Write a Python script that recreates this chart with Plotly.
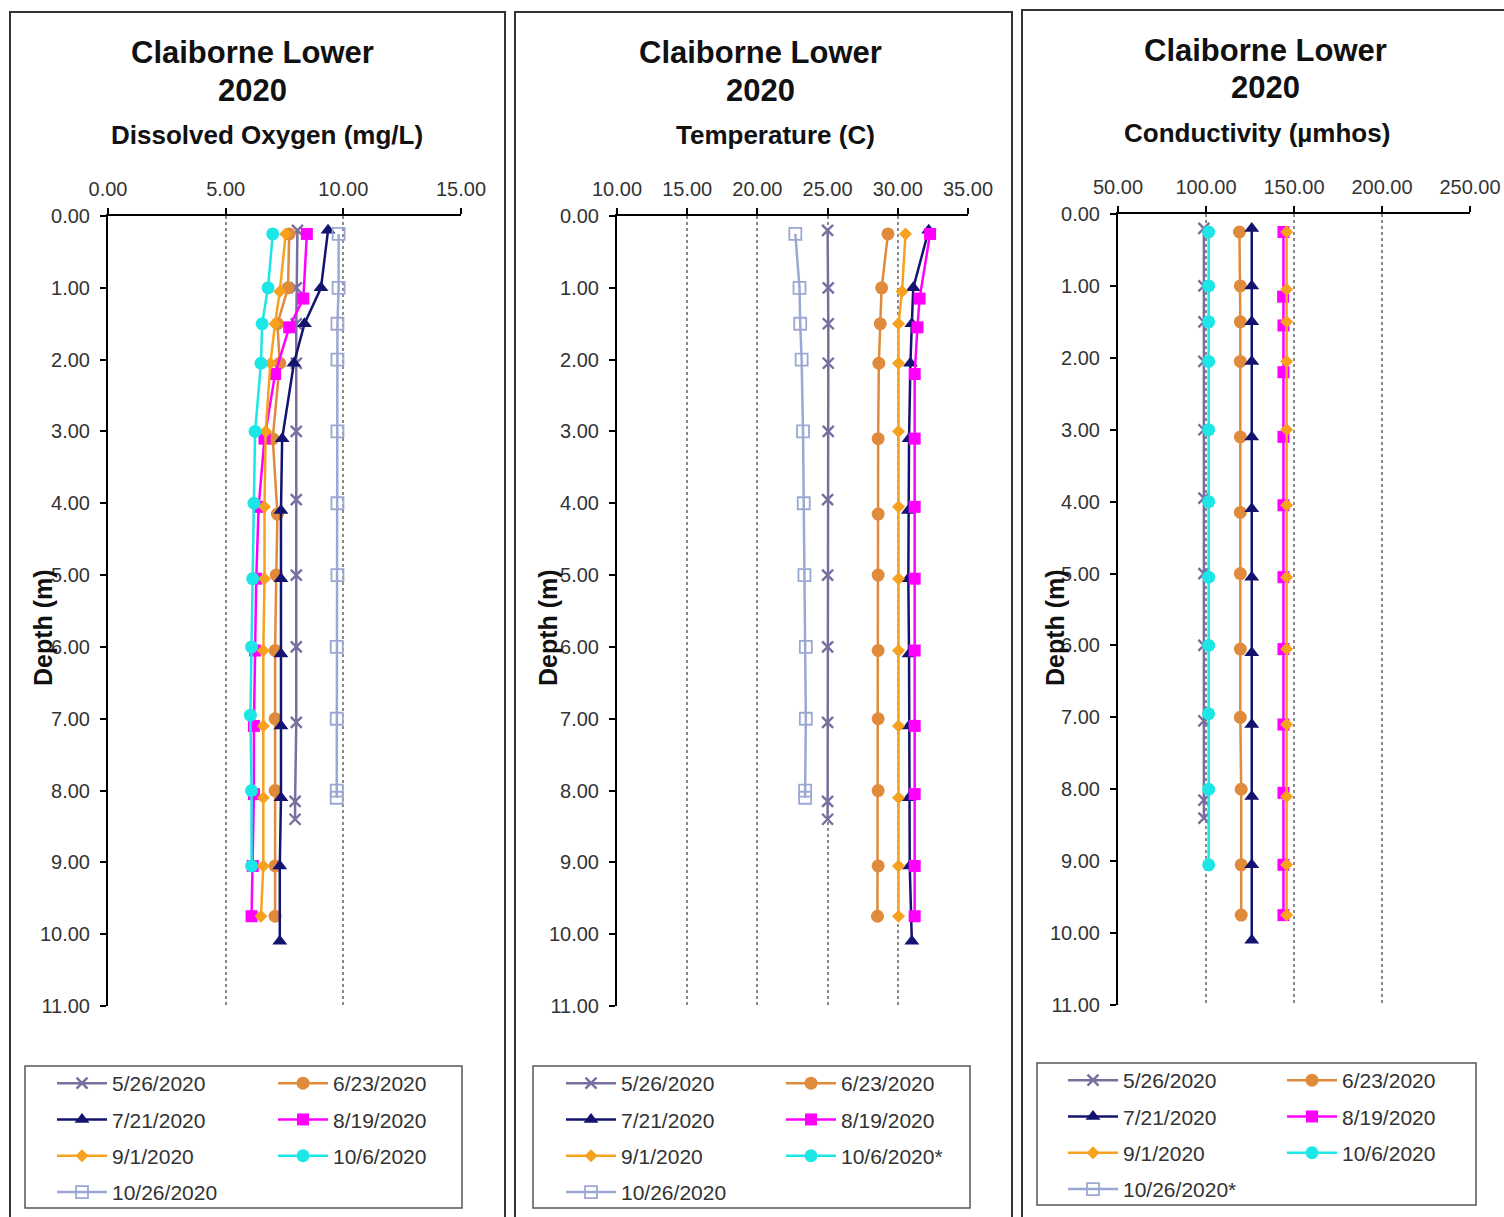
import plotly.graph_objects as go

W, H = 1504, 1217
FONT = "Liberation Sans, Arial, sans-serif"

# ---------------- data ----------------
series_names = ["5/26/2020", "6/23/2020", "7/21/2020", "8/19/2020", "9/1/2020", "10/6/2020", "10/26/2020"]

d_0526 = [0.2, 1.0, 1.5, 2.05, 3.0, 3.95, 5.0, 6.0, 7.05, 8.15, 8.4]
d_0623 = [0.25, 1.0, 1.5, 2.05, 3.1, 4.15, 5.0, 6.05, 7.0, 8.0, 9.05, 9.75]
d_0721 = [0.2, 1.0, 1.5, 2.05, 3.1, 4.1, 5.05, 6.1, 7.1, 8.1, 9.05, 10.1]
d_0819 = [0.25, 1.15, 1.55, 2.2, 3.1, 4.05, 5.05, 6.05, 7.1, 8.05, 9.05, 9.75]
d_0901 = [0.25, 1.05, 1.5, 2.05, 3.0, 4.05, 5.05, 6.05, 7.1, 8.1, 9.05, 9.75]
d_1006 = [0.25, 1.0, 1.5, 2.05, 3.0, 4.0, 5.05, 6.0, 6.95, 8.0, 9.05]
d_1026 = [0.25, 1.0, 1.5, 2.0, 3.0, 4.0, 5.0, 6.0, 7.0, 8.0, 8.1]

do_0526 = [8.05, 8.0, 8.0, 8.0, 8.0, 8.0, 8.0, 8.0, 8.0, 7.95, 7.95]
do_0623 = [7.7, 7.65, 7.2, 7.3, 7.0, 7.2, 7.15, 7.1, 7.1, 7.1, 7.1, 7.1]
do_0721 = [9.35, 9.05, 8.35, 7.9, 7.4, 7.35, 7.35, 7.35, 7.35, 7.35, 7.3, 7.3]
do_0819 = [8.45, 8.3, 7.7, 7.1, 6.65, 6.4, 6.3, 6.25, 6.2, 6.2, 6.15, 6.1]
do_0901 = [7.55, 7.3, 7.1, 6.9, 6.7, 6.65, 6.65, 6.6, 6.6, 6.6, 6.6, 6.5]
do_1006 = [7.0, 6.8, 6.55, 6.5, 6.25, 6.2, 6.15, 6.1, 6.05, 6.1, 6.1]
do_1026 = [9.8, 9.8, 9.75, 9.75, 9.75, 9.75, 9.75, 9.72, 9.72, 9.72, 9.72]

t_0526 = [25.0, 25.05, 25.05, 25.05, 25.05, 25.0, 25.0, 25.0, 25.0, 25.0, 25.0]
t_0623 = [29.3, 28.85, 28.75, 28.65, 28.6, 28.6, 28.6, 28.6, 28.6, 28.6, 28.6, 28.55]
t_0721 = [32.2, 31.1, 31.0, 30.9, 30.8, 30.75, 30.75, 30.8, 30.8, 30.8, 30.85, 31.0]
t_0819 = [32.3, 31.55, 31.4, 31.2, 31.2, 31.2, 31.2, 31.2, 31.2, 31.2, 31.2, 31.2]
t_0901 = [30.55, 30.3, 30.05, 30.05, 30.05, 30.05, 30.05, 30.05, 30.05, 30.05, 30.05, 30.05]
t_1006 = []
t_1026 = [22.7, 23.0, 23.05, 23.15, 23.25, 23.3, 23.35, 23.45, 23.45, 23.4, 23.4]

c_0526 = [98.8, 98.8, 98.8, 98.8, 98.8, 98.8, 98.8, 98.8, 98.8, 98.8, 98.8]
c_0623 = [119.0, 119.5, 119.5, 119.5, 119.5, 119.5, 119.5, 119.5, 119.5, 120.0, 120.0, 120.0]
c_0721 = [126.0, 126.0, 126.0, 126.0, 126.0, 126.0, 126.0, 126.0, 126.0, 126.0, 126.0, 126.0]
c_0819 = [144.0, 143.8, 144.0, 144.0, 144.0, 144.0, 144.0, 144.0, 144.0, 144.0, 144.0, 144.0]
c_0901 = [145.8, 145.8, 145.8, 145.8, 145.8, 145.8, 145.8, 145.8, 145.8, 145.8, 145.8, 145.8]
c_1006 = [101.5, 101.5, 101.5, 101.5, 101.5, 101.5, 101.5, 101.5, 101.5, 101.5, 101.5]
c_1026 = []

depths = [d_0526, d_0623, d_0721, d_0819, d_0901, d_1006, d_1026]
do_vals = [do_0526, do_0623, do_0721, do_0819, do_0901, do_1006, do_1026]
temp_vals = [t_0526, t_0623, t_0721, t_0819, t_0901, t_1006, t_1026]
cond_vals = [c_0526, c_0623, c_0721, c_0819, c_0901, c_1006, c_1026]

panel_titles = ["Dissolved Oxygen (mg/L)", "Temperature (C)", "Conductivity (µmhos)"]
x_ranges = [[0, 15], [10, 35], [50, 250]]
x_dticks = [5, 5, 50]
legend_names = [
    series_names,
    ["5/26/2020", "6/23/2020", "7/21/2020", "8/19/2020", "9/1/2020", "10/6/2020*", "10/26/2020"],
    ["5/26/2020", "6/23/2020", "7/21/2020", "8/19/2020", "9/1/2020", "10/6/2020", "10/26/2020*"],
]

# ---------------- styles ----------------
styles = [
    dict(line="#7A6E9E", marker=dict(symbol="x-thin", size=11, color="#7A6E9E", line=dict(width=2.4, color="#7A6E9E"))),
    dict(line="#E08A3C", marker=dict(symbol="circle", size=13, color="#E08A3C")),
    dict(line="#141470", marker=dict(symbol="triangle-up", size=13, color="#141470")),
    dict(line="#FF00FF", marker=dict(symbol="square", size=12, color="#FF00FF")),
    dict(line="#F6A21E", marker=dict(symbol="diamond", size=10, color="#F6A21E")),
    dict(line="#1CE6E6", marker=dict(symbol="circle", size=13, color="#1CE6E6")),
    dict(line="#9CA8D4", marker=dict(symbol="square-open", size=12, color="#9CA8D4", line=dict(width=1.8, color="#9CA8D4"))),
]
col1 = [0, 2, 4, 6]

def px_x(p):
    return p / W

def px_y(p):
    return 1 - p / H

# plot areas in pixel coordinates (left, right, top, bottom)
areas = [(108, 461, 216, 1006), (617, 968, 216, 1006), (1118, 1470, 214, 1005)]
panels = [(10, 505, 12), (515, 1012, 12), (1022, 1515, 10)]
title_cx = [252, 760, 1265]
sub_cx = [267, 775, 1257]
legend_boxes = [(25, 462, 1066, 1208), (533, 970, 1066, 1208), (1037, 1476, 1063, 1205)]
legend_text_x = [(112, 333), (621, 841), (1123, 1342)]
legend_top = [1063, 1063, 1060]

fig = go.Figure()
all_vals = [do_vals, temp_vals, cond_vals]
for p in range(3):
    sfx = "" if p == 0 else str(p + 1)
    for i in range(7):
        xs = all_vals[p][i]
        ys = depths[i][:len(xs)] if xs else [None]
        if not xs:
            xs = [None]
        leg_idx = 2 * p + (0 if i in col1 else 1)
        leg = "legend" if leg_idx == 0 else "legend%d" % (leg_idx + 1)
        st = styles[i]
        fig.add_trace(go.Scatter(
            x=xs, y=ys, mode="lines+markers", name=legend_names[p][i],
            line=dict(color=st["line"], width=2.5),
            marker=st["marker"],
            xaxis="x" + sfx, yaxis="y" + sfx,
            legend=leg, legendgroup="p%d_%d" % (p, i), showlegend=True,
        ))

layout = dict(
    width=W, height=H, margin=dict(l=0, r=0, t=0, b=0, autoexpand=False),
    paper_bgcolor="white", plot_bgcolor="white",
    font=dict(family=FONT, color="#222"),
    showlegend=True,
)
shapes = []
annotations = []
for p in range(3):
    sfx = "" if p == 0 else str(p + 1)
    l, r, t, b = areas[p]
    layout["xaxis" + sfx] = dict(
        domain=[px_x(l), px_x(r)], range=x_ranges[p], dtick=x_dticks[p], tick0=x_ranges[p][0],
        side="top", anchor="y" + sfx, tickformat=".2f",
        showline=True, linecolor="black", linewidth=2, mirror=False,
        ticks="outside", ticklen=6, tickwidth=1.5, tickcolor="black",
        showgrid=True, gridcolor="#8a8a8a", griddash="dot", gridwidth=1.5,
        zeroline=False, tickfont=dict(size=20, family=FONT, color="#333"),
        ticklabelstandoff=4, fixedrange=True, automargin=False,
    )
    layout["yaxis" + sfx] = dict(
        domain=[px_y(b), px_y(t)], range=[11, 0], dtick=1, tick0=0,
        anchor="x" + sfx, tickformat=".2f",
        showline=True, linecolor="black", linewidth=2,
        ticks="outside", ticklen=6, tickwidth=1.5, tickcolor="black",
        showgrid=False, zeroline=False,
        tickfont=dict(size=20, family=FONT, color="#333"),
        ticklabelstandoff=6, fixedrange=True, automargin=False,
    )
    # panel border
    pl, pr, pt = panels[p]
    shapes.append(dict(type="rect", xref="paper", yref="paper",
                       x0=px_x(pl), x1=px_x(pr), y0=-0.02, y1=px_y(pt),
                       line=dict(color="#333", width=2), fillcolor="rgba(0,0,0,0)", layer="below"))
    # legend box
    bl, br, bt, bb = legend_boxes[p]
    shapes.append(dict(type="rect", xref="paper", yref="paper",
                       x0=px_x(bl), x1=px_x(br), y0=px_y(bb), y1=px_y(bt),
                       line=dict(color="#555", width=1.5), fillcolor="rgba(0,0,0,0)"))
    # titles
    annotations.append(dict(text="<b>Claiborne Lower</b>", x=px_x(title_cx[p]), y=px_y(53 if p < 2 else 51),
                            xref="paper", yref="paper", showarrow=False, xanchor="center", yanchor="middle",
                            font=dict(size=31, family=FONT, color="#111")))
    annotations.append(dict(text="<b>2020</b>", x=px_x(title_cx[p]), y=px_y(90 if p < 2 else 88),
                            xref="paper", yref="paper", showarrow=False, xanchor="center", yanchor="middle",
                            font=dict(size=31, family=FONT, color="#111")))
    annotations.append(dict(text="<b>%s</b>" % panel_titles[p], x=px_x(sub_cx[p]), y=px_y(135 if p < 2 else 133),
                            xref="paper", yref="paper", showarrow=False, xanchor="center", yanchor="middle",
                            font=dict(size=26, family=FONT, color="#111")))
    annotations.append(dict(text="<b>Depth (m)</b>", x=px_x(panels[p][0] + 33), y=px_y(628),
                            xref="paper", yref="paper", showarrow=False, xanchor="center", yanchor="middle",
                            textangle=-90, font=dict(size=25, family=FONT, color="#111")))
    # legends
    for c in range(2):
        leg_idx = 2 * p + c
        leg = "legend" if leg_idx == 0 else "legend%d" % (leg_idx + 1)
        layout[leg] = dict(
            x=px_x(legend_text_x[p][c] - 60), y=px_y(legend_top[p]), xref="paper", yref="paper",
            xanchor="left", yanchor="top", orientation="v",
            bgcolor="rgba(0,0,0,0)", borderwidth=0,
            font=dict(size=21, family=FONT, color="#333"),
            itemwidth=50, tracegroupgap=6, traceorder="grouped",
            itemclick=False, itemdoubleclick=False,
        )

layout["shapes"] = shapes
layout["annotations"] = annotations
fig.update_layout(**layout)
fig.write_html("out.html", config={"displayModeBar": False},
               post_script="document.body.style.margin='0';document.body.style.padding='0';")
